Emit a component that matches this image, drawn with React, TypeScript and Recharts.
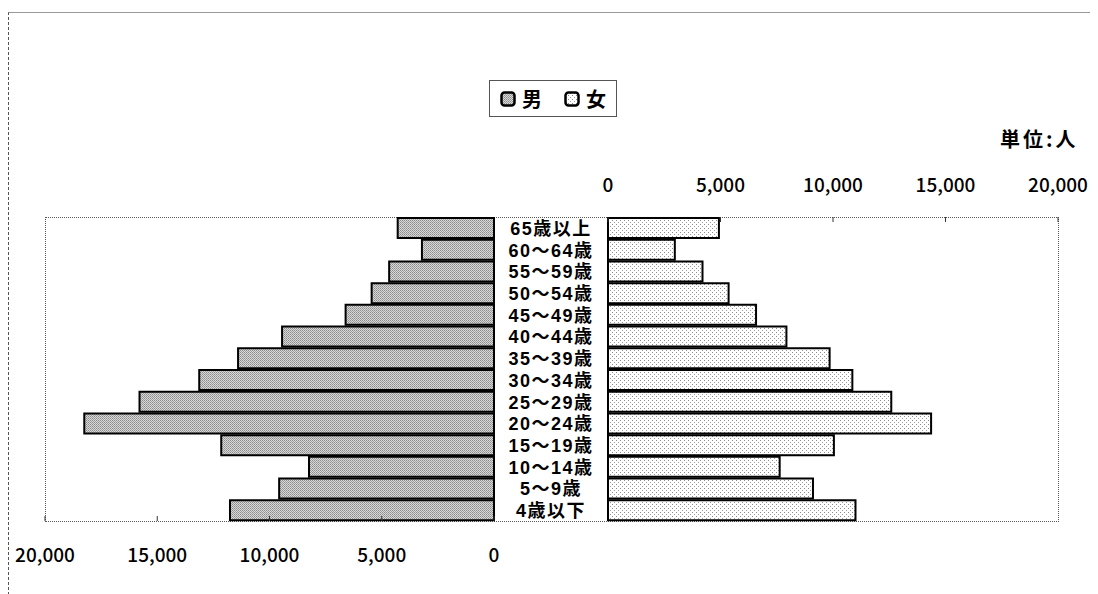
import React from "react";
import { BarChart, Bar, XAxis, YAxis, ReferenceLine } from "recharts";

// age groups, top row first
const ageGroups = [
  "65歳以上",
  "60〜64歳",
  "55〜59歳",
  "50〜54歳",
  "45〜49歳",
  "40〜44歳",
  "35〜39歳",
  "30〜34歳",
  "25〜29歳",
  "20〜24歳",
  "15〜19歳",
  "10〜14歳",
  "5〜9歳",
  "4歳以下",
];
const maleCounts = [4290, 3210, 4670, 5450, 6610, 9440, 11400, 13130, 15790, 18250, 12150, 8240, 9570, 11760];
const femaleCounts = [4930, 2970, 4200, 5360, 6580, 7930, 9850, 10860, 12590, 14360, 10040, 7630, 9110, 11000];
const axisTicks = [0, 5000, 10000, 15000, 20000];

const rows = ageGroups.map((age, i) => ({
  age,
  male: maleCounts[i],
  female: femaleCounts[i],
}));

const FONT = '"Noto Sans CJK JP", "Liberation Sans", sans-serif';
const AGE_FONT = '"Liberation Sans", "Noto Sans CJK JP", sans-serif';
const fmt = (v: number) => v.toLocaleString("en-US");

// small tick marks drawn inside the plot frame
const innerTick = (dir: number) => (props: any) => (
  <line x1={props.x} x2={props.x} y1={props.y} y2={props.y + dir * 5} stroke="#333" strokeWidth={1} />
);

const bottomLabelTick = (props: any) => (
  <g>
    <line x1={props.x} x2={props.x} y1={props.y} y2={props.y - 5} stroke="#333" strokeWidth={1} />
    <text x={props.x} y={props.y + 41} textAnchor="middle" fontFamily={FONT} fontSize={19} fontWeight={500} fill="#000">
      {fmt(props.payload.value)}
    </text>
  </g>
);

const topLabelTick = (props: any) => (
  <g>
    <line x1={props.x} x2={props.x} y1={props.y} y2={props.y + 5} stroke="#333" strokeWidth={1} />
    <text x={props.x} y={props.y - 25} textAnchor="middle" fontFamily={FONT} fontSize={19} fontWeight={500} fill="#000">
      {fmt(props.payload.value)}
    </text>
  </g>
);

const ageTick = (props: any) => (
  <text
    x={props.x + 57}
    y={props.y + 7}
    textAnchor="middle"
    fontFamily={AGE_FONT}
    fontSize={18}
    fontWeight={700}
    letterSpacing={1.5}
    fill="#000"
  >
    {props.payload.value}
  </text>
);

const LegendIcon = ({ pattern }: { pattern: string }) => (
  <svg width={16} height={16} style={{ verticalAlign: "middle" }}>
    <rect x={1.5} y={1.5} width={13} height={13} rx={3} fill={`url(#${pattern})`} stroke="#000" strokeWidth={2.5} />
  </svg>
);

export default function App() {
  return (
    <div style={{ position: "relative", width: 1090, height: 586, fontFamily: FONT }}>
      <svg width={0} height={0} style={{ position: "absolute" }}>
        <defs>
          <pattern id="malePat" width={2} height={2} patternUnits="userSpaceOnUse">
            <rect width={2} height={2} fill="#d8d8d8" />
            <rect x={0} y={0} width={1} height={1} fill="#8c8c8c" />
            <rect x={1} y={1} width={1} height={1} fill="#a0a0a0" />
          </pattern>
          <pattern id="femalePat" width={4} height={4} patternUnits="userSpaceOnUse">
            <rect width={4} height={4} fill="#ffffff" />
            <rect x={0} y={0} width={1} height={1} fill="#8a8a8a" />
            <rect x={2} y={2} width={1} height={1} fill="#9a9a9a" />
          </pattern>
        </defs>
      </svg>

      {/* outer frame */}
      <div
        style={{
          position: "absolute",
          left: 0,
          top: 4,
          width: 1090,
          height: 582,
          borderTop: "1px solid #999",
          borderLeft: "1px dashed #555",
        }}
      />

      {/* plot frame */}
      <div
        style={{
          position: "absolute",
          left: 37,
          top: 209,
          width: 1012,
          height: 303,
          border: "1px dotted #555",
        }}
      />

      {/* legend */}
      <div
        style={{
          position: "absolute",
          left: 481,
          top: 72,
          width: 126,
          height: 35,
          border: "1px solid #555",
          display: "flex",
          alignItems: "center",
          justifyContent: "center",
          gap: 6,
          fontSize: 20,
          fontWeight: 700,
        }}
      >
        <LegendIcon pattern="malePat" />
        <span>男</span>
        <span style={{ width: 10 }} />
        <LegendIcon pattern="femalePat" />
        <span>女</span>
      </div>

      <div
        style={{
          position: "absolute",
          left: 992,
          top: 116,
          fontSize: 20,
          fontWeight: 700,
          letterSpacing: 3,
        }}
      >
        単位:人
      </div>

      {/* male side */}
      <div style={{ position: "absolute", left: 0, top: 182 }}>
        <BarChart
          layout="vertical"
          width={600}
          height={381}
          data={rows}
          margin={{ top: 0, right: 0, bottom: 0, left: 37 }}
          barCategoryGap={1}
        >
          <XAxis
            xAxisId="top"
            type="number"
            orientation="top"
            domain={[0, 20000]}
            ticks={axisTicks}
            interval={0}
            reversed
            height={27}
            axisLine={false}
            tickLine={false}
            tickSize={0}
            tickMargin={0}
            tick={innerTick(1)}
          />
          <XAxis
            type="number"
            domain={[0, 20000]}
            ticks={axisTicks}
            interval={0}
            reversed
            height={50}
            axisLine={false}
            tickLine={false}
            tickSize={0}
            tickMargin={0}
            tick={bottomLabelTick}
          />
          <YAxis
            type="category"
            dataKey="age"
            orientation="right"
            width={114}
            interval={0}
            axisLine={{ stroke: "#000", strokeWidth: 2 }}
            tickLine={false}
            tickSize={0}
            tickMargin={0}
            tick={ageTick}
          />
          <Bar dataKey="male" fill="url(#malePat)" stroke="#000" strokeWidth={2} isAnimationActive={false} />
        </BarChart>
      </div>

      {/* female side */}
      <div style={{ position: "absolute", left: 592, top: 152 }}>
        <BarChart
          layout="vertical"
          width={498}
          height={371}
          data={rows}
          margin={{ top: 0, right: 40, bottom: 0, left: 8 }}
          barCategoryGap={1}
        >
          <XAxis
            type="number"
            orientation="top"
            domain={[0, 20000]}
            ticks={axisTicks}
            interval={0}
            height={57}
            axisLine={false}
            tickLine={false}
            tickSize={0}
            tickMargin={0}
            tick={topLabelTick}
          />
          <XAxis
            xAxisId="bottom"
            type="number"
            orientation="bottom"
            domain={[0, 20000]}
            ticks={axisTicks}
            interval={0}
            height={10}
            axisLine={false}
            tickLine={false}
            tickSize={0}
            tickMargin={0}
            tick={innerTick(-1)}
          />
          <YAxis type="category" dataKey="age" hide />
          <ReferenceLine x={0} stroke="#000" strokeWidth={2} />
          <Bar dataKey="female" fill="url(#femalePat)" stroke="#000" strokeWidth={2} isAnimationActive={false} />
        </BarChart>
      </div>
    </div>
  );
}
